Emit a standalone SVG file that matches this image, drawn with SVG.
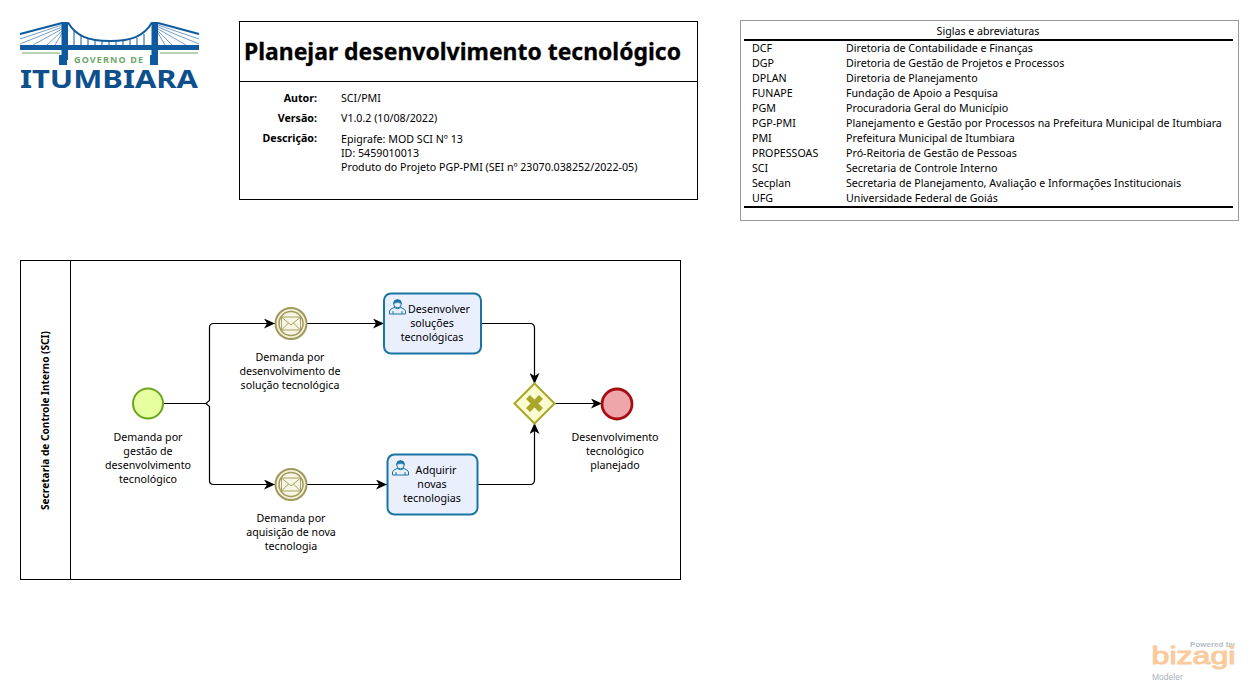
<svg xmlns="http://www.w3.org/2000/svg" width="1258" height="692" viewBox="0 0 1258 692">
<style>
text{font-family:"Noto Sans","Open Sans","Liberation Sans",sans-serif;font-size:10.67px;fill:#000}
.c{text-anchor:middle}
.r{text-anchor:end;font-weight:700}
.box{fill:#fff;stroke:#000;stroke-width:1}
.conn{fill:none;stroke:#000;stroke-width:1.2}
.task{fill:#e9effd;stroke:#1a75a3;stroke-width:2}
.icon{fill:none;stroke:#1a75a3;stroke-width:1}
.msg{fill:none;stroke:#a9a064;stroke-width:1}
.blue{fill:none;stroke:#0f5a9e}
.thin{fill:none;stroke:#4f86bd;stroke-width:.8}
.solid{fill:#0f5a9e}
</style>
<defs>
<marker id="arrow" viewBox="0 0 12 10" refX="11" refY="5" markerWidth="12" markerHeight="10" markerUnits="userSpaceOnUse" orient="auto"><path d="M0,0 L11,5 L0,10 L3,5 Z" fill="#000"/></marker>
<g id="user"><circle cx="8.500" cy="5" r="3.800" class="icon"/><path d="M4.500,4.500 Q4.500,0.500 8.500,0.500 Q12.500,0.500 12.500,4.500 Q8.500,2.500 4.500,4.500 Z" fill="#1a75a3" stroke="#1a75a3" stroke-width=".5"/><path d="M0.500,15 V12 Q1,10 5,8.500 Q8.500,11 12,8.500 Q16,10 16.500,12 V15 Z M4,15 V12 M13,15 V12" class="icon"/></g>
<g id="env"><rect x="-9.500" y="-6.500" width="19" height="13" class="msg"/><path d="M-9.500,-6.500 L0,1.500 L9.500,-6.500 M-9.500,6.500 L-2.500,-0.500 M9.500,6.500 L2.500,-0.500" class="msg"/></g>
</defs>
<rect width="1258" height="692" fill="#fff"/>

<g id="logo">
<path d="M20,34 L62,23 M158,23 L199,34" class="blue" stroke-width="2"/>
<path d="M68,22.500 C76,36 88,41 110,41 C132,41 144,36 152,22.500" class="blue" stroke-width="2"/>
<path d="M62,25 L20,39 M62,27 L20,44 M62,29 L33,45 M62,31 L47,45 M62,33 L55,45 M158,25 L199,39 M158,27 L199,44 M158,29 L186,45 M158,31 L172,45 M158,33 L165,45" class="thin"/>
<path d="M74,30 V45 M81,35 V45 M88,38 V45 M95,40 V45 M102,41 V45 M109,41 V45 M116,41 V45 M123,41 V45 M130,40 V45 M137,38 V45 M144,34 V45" class="blue" stroke-width="1"/>
<rect x="20" y="45" width="179" height="5" class="solid"/>
<rect x="61.500" y="22" width="6.500" height="38" class="solid"/>
<rect x="151.500" y="22" width="6.500" height="38" class="solid"/>
<rect x="59" y="55" width="8" height="10" class="solid"/><rect x="150" y="55" width="8" height="10" class="solid"/>
<path d="M22,53 H60 M160,53 H198" stroke="#6ea86a" stroke-width="1.200"/>
<text x="74" y="63" textLength="69" lengthAdjust="spacing" style="font-size:9px;font-weight:700;fill:#6ea86a">GOVERNO DE</text>
<text x="20" y="88" textLength="178" lengthAdjust="spacingAndGlyphs" style="font-size:25.500px;font-weight:700;fill:#0f4f8c">ITUMBIARA</text>
</g>

<g id="header">
<rect x="239.500" y="21.500" width="458" height="178" class="box"/>
<path d="M239.500,81.500 H697.500" stroke="#000" fill="none"/>
<text x="244" y="60" textLength="437" lengthAdjust="spacingAndGlyphs" style="font-size:24px;font-weight:700;stroke:#000;stroke-width:.3">Planejar desenvolvimento tecnológico</text>
<text x="317" y="102" class="r">Autor:</text>
<text x="317" y="122" class="r">Versão:</text>
<text x="317" y="142" class="r">Descrição:</text>
<text x="341" y="102">SCI/PMI</text>
<text x="341" y="122">V1.0.2 (10/08/2022)</text>
<text x="341" y="143">Epigrafe: MOD SCI Nº 13</text>
<text x="341" y="157">ID: 5459010013</text>
<text x="341" y="171">Produto do Projeto PGP-PMI (SEI nº 23070.038252/2022-05)</text>
</g>

<g id="legend">
<rect x="740.500" y="20.500" width="498" height="200" fill="#fff" stroke="#999"/>
<path d="M744,40 H1233 M744,207 H1233" stroke="#000" stroke-width="2" fill="none"/>
<text x="988" y="35" class="c">Siglas e abreviaturas</text>
<text x="752" y="52">DCF</text><text x="846" y="52">Diretoria de Contabilidade e Finanças</text>
<text x="752" y="67">DGP</text><text x="846" y="67">Diretoria de Gestão de Projetos e Processos</text>
<text x="752" y="82">DPLAN</text><text x="846" y="82">Diretoria de Planejamento</text>
<text x="752" y="97">FUNAPE</text><text x="846" y="97">Fundação de Apoio a Pesquisa</text>
<text x="752" y="112">PGM</text><text x="846" y="112">Procuradoria Geral do Município</text>
<text x="752" y="127">PGP-PMI</text><text x="846" y="127">Planejamento e Gestão por Processos na Prefeitura Municipal de Itumbiara</text>
<text x="752" y="142">PMI</text><text x="846" y="142">Prefeitura Municipal de Itumbiara</text>
<text x="752" y="157">PROPESSOAS</text><text x="846" y="157">Pró-Reitoria de Gestão de Pessoas</text>
<text x="752" y="172">SCI</text><text x="846" y="172">Secretaria de Controle Interno</text>
<text x="752" y="187">Secplan</text><text x="846" y="187">Secretaria de Planejamento, Avaliação e Informações Institucionais</text>
<text x="752" y="202">UFG</text><text x="846" y="202">Universidade Federal de Goiás</text>
</g>

<g id="pool">
<rect x="20.500" y="260.500" width="660" height="319" class="box"/>
<path d="M70.500,260.500 V579.500" stroke="#000" fill="none"/>
<text transform="translate(48.500,420.500) rotate(-90)" class="c" textLength="179" lengthAdjust="spacingAndGlyphs" style="font-weight:700">Secretaria de Controle Interno (SCI)</text>
</g>

<g id="connectors">
<path d="M163,403.500 H206 L209.500,400.500 V327.500 Q209.500,323.500 213.500,323.500 H275" class="conn" marker-end="url(#arrow)"/>
<path d="M206,403.500 L209.500,406.500 V480.500 Q209.500,484.500 213.500,484.500 H275" class="conn" marker-end="url(#arrow)"/>
<path d="M307,323.500 H384" class="conn" marker-end="url(#arrow)"/>
<path d="M307,484.500 H387" class="conn" marker-end="url(#arrow)"/>
<path d="M481,323.500 H530 Q534.500,323.500 534.500,328 V384" class="conn" marker-end="url(#arrow)"/>
<path d="M478,484.500 H530 Q534.500,484.500 534.500,480 V423" class="conn" marker-end="url(#arrow)"/>
<path d="M554,403.500 H602" class="conn" marker-end="url(#arrow)"/>
</g>

<g id="start">
<circle cx="148" cy="403.500" r="15" fill="#e6ff9f" stroke="#6aa51e" stroke-width="2"/>
<text x="148" y="441" class="c">Demanda por</text><text x="148" y="455" class="c">gestão de</text><text x="148" y="469" class="c">desenvolvimento</text><text x="148" y="483" class="c">tecnológico</text>
</g>

<g id="event-solucao">
<circle cx="291" cy="323.500" r="15.500" fill="#f4f1d8" stroke="#a09a5e" stroke-width="2"/>
<circle cx="291" cy="323.500" r="12" fill="#f7f5e3" stroke="#a09a5e" stroke-width="1.500"/>
<use href="#env" x="291" y="323.500"/>
<text x="290" y="361" class="c">Demanda por</text><text x="290" y="375" class="c">desenvolvimento de</text><text x="290" y="389" class="c">solução tecnológica</text>
</g>

<g id="event-aquisicao">
<circle cx="291" cy="484.500" r="15.500" fill="#f4f1d8" stroke="#a09a5e" stroke-width="2"/>
<circle cx="291" cy="484.500" r="12" fill="#f7f5e3" stroke="#a09a5e" stroke-width="1.500"/>
<use href="#env" x="291" y="484.500"/>
<text x="291" y="522" class="c">Demanda por</text><text x="291" y="536" class="c">aquisição de nova</text><text x="291" y="550" class="c">tecnologia</text>
</g>

<g id="task-desenvolver">
<rect x="384" y="293.500" width="97" height="60" rx="7" class="task"/>
<use href="#user" x="389" y="299"/>
<text x="439" y="313" class="c">Desenvolver</text><text x="432" y="327" class="c">soluções</text><text x="432" y="341" class="c">tecnológicas</text>
</g>

<g id="task-adquirir">
<rect x="387.500" y="454.500" width="90" height="60" rx="7" class="task"/>
<use href="#user" x="392" y="460"/>
<text x="436" y="474" class="c">Adquirir</text><text x="432" y="488" class="c">novas</text><text x="432" y="502" class="c">tecnologias</text>
</g>

<g id="gateway">
<path d="M534.500,383.500 L554.500,403.500 L534.500,423.500 L514.500,403.500 Z" fill="#fbfccf" stroke="#a9a62a" stroke-width="2"/>
<path d="M528,397 L541,410 M541,397 L528,410" stroke="#a9a62a" stroke-width="5.500" fill="none"/>
</g>

<g id="end">
<circle cx="617" cy="404" r="15" fill="#eea6aa" stroke="#a50f12" stroke-width="2.800"/>
<text x="615" y="441" class="c">Desenvolvimento</text><text x="615" y="455" class="c">tecnológico</text><text x="615" y="469" class="c">planejado</text>
</g>

<g id="bizagi">
<text x="1235" y="647" text-anchor="end" style="font-family:'Liberation Sans',sans-serif;font-size:8px;font-weight:700;fill:#b4bcc4">Powered by</text>
<text x="1151.500" y="663.500" textLength="84" lengthAdjust="spacingAndGlyphs" style="font-family:'Liberation Sans',sans-serif;font-size:23px;fill:#f9cb9c;stroke:#f9cb9c;stroke-width:1">bizagi</text>
<text x="1152" y="680" style="font-family:'Liberation Sans',sans-serif;font-size:8.500px;fill:#a9b2ba">Modeler</text>
</g>
</svg>
